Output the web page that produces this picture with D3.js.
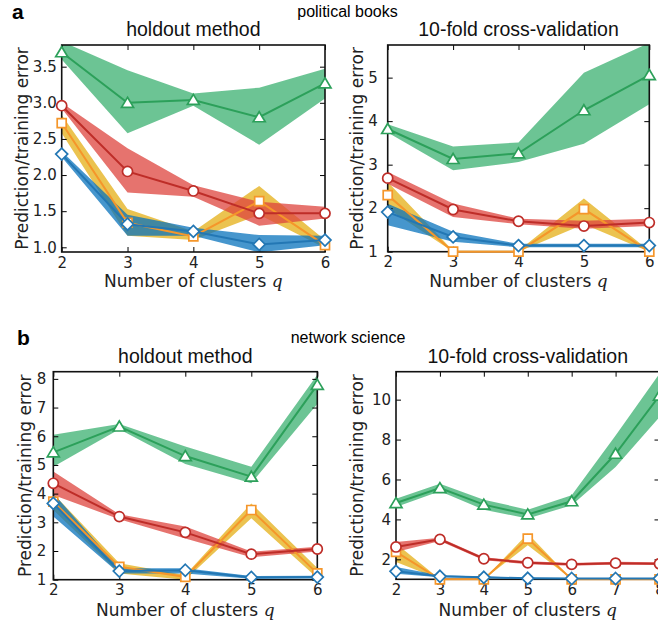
<!DOCTYPE html>
<html><head><meta charset="utf-8">
<script src="https://cdn.jsdelivr.net/npm/d3@7"></script>
<style>body{margin:0;background:#fff} svg{display:block}</style>
</head><body>
<svg id="chart" width="658" height="627"></svg>
<script>
// ---------- DATA ----------
const qShort = [2, 3, 4, 5, 6];
const qLong = [2, 3, 4, 5, 6, 7, 8];

// political books, holdout method
const polHoldTriMean = [3.70, 3.00, 3.04, 2.80, 3.27];
const polHoldTriLow  = [3.60, 2.58, 2.96, 2.42, 3.06];
const polHoldTriHigh = [3.85, 3.45, 3.13, 3.21, 3.47];
const polHoldCirMean = [2.96, 2.05, 1.78, 1.47, 1.47];
const polHoldCirLow  = [2.92, 1.76, 1.70, 1.30, 1.40];
const polHoldCirHigh = [3.00, 2.37, 1.86, 1.63, 1.56];
const polHoldSqMean  = [2.72, 1.34, 1.15, 1.64, 1.03];
const polHoldSqLow   = [2.58, 1.16, 1.10, 1.45, 0.99];
const polHoldSqHigh  = [2.83, 1.53, 1.22, 1.85, 1.10];
const polHoldDiaMean = [2.29, 1.32, 1.22, 1.04, 1.10];
const polHoldDiaLow  = [2.25, 1.16, 1.16, 0.93, 1.03];
const polHoldDiaHigh = [2.33, 1.45, 1.27, 1.17, 1.16];

// political books, 10-fold cross-validation
const polCvTriMean = [3.82, 3.13, 3.26, 4.25, 5.06];
const polCvTriLow  = [3.74, 2.87, 3.06, 3.48, 4.39];
const polCvTriHigh = [3.93, 3.42, 3.51, 5.11, 5.80];
const polCvCirMean = [2.69, 1.97, 1.70, 1.59, 1.67];
const polCvCirLow  = [2.56, 1.80, 1.63, 1.53, 1.59];
const polCvCirHigh = [2.83, 2.11, 1.76, 1.71, 1.76];
const polCvSqMean  = [2.30, 1.00, 1.00, 1.98, 1.00];
const polCvSqLow   = [1.99, 1.00, 1.00, 1.63, 1.00];
const polCvSqHigh  = [2.60, 1.02, 1.02, 2.22, 1.02];
const polCvDiaMean = [1.91, 1.34, 1.14, 1.14, 1.14];
const polCvDiaLow  = [1.61, 1.23, 1.10, 1.10, 1.10];
const polCvDiaHigh = [2.10, 1.46, 1.18, 1.18, 1.18];

// network science, holdout method
const netHoldTriMean = [5.44, 6.34, 5.31, 4.59, 7.79];
const netHoldTriLow  = [4.94, 6.24, 5.03, 4.36, 7.12];
const netHoldTriHigh = [6.05, 6.43, 5.64, 4.94, 8.14];
const netHoldCirMean = [4.36, 3.20, 2.65, 1.89, 2.07];
const netHoldCirLow  = [3.95, 3.11, 2.44, 1.78, 1.98];
const netHoldCirHigh = [4.77, 3.28, 2.85, 1.98, 2.15];
const netHoldSqMean  = [3.72, 1.45, 1.10, 3.43, 1.22];
const netHoldSqLow   = [3.43, 1.22, 1.00, 3.14, 1.06];
const netHoldSqHigh  = [4.00, 1.57, 1.16, 3.66, 1.41];
const netHoldDiaMean = [3.66, 1.30, 1.33, 1.08, 1.09];
const netHoldDiaLow  = [3.20, 1.22, 1.22, 1.03, 1.04];
const netHoldDiaHigh = [4.01, 1.40, 1.40, 1.13, 1.14];

// network science, 10-fold cross-validation
const netCvTriMean = [4.82, 5.57, 4.74, 4.25, 4.91, 7.29, 10.2];
const netCvTriLow  = [4.62, 5.41, 4.49, 4.04, 4.71, 6.63, 9.13];
const netCvTriHigh = [5.04, 5.79, 4.99, 4.49, 5.21, 8.21, 11.3];
const netCvCirMean = [2.62, 3.00, 2.03, 1.83, 1.75, 1.81, 1.78];
const netCvCirLow  = [2.37, 2.92, 1.95, 1.76, 1.68, 1.74, 1.71];
const netCvCirHigh = [2.87, 3.08, 2.11, 1.90, 1.82, 1.88, 1.85];
const netCvSqMean  = [2.37, 1.00, 1.00, 3.04, 1.00, 1.00, 1.00];
const netCvSqLow   = [1.87, 1.00, 1.00, 2.70, 1.00, 1.00, 1.00];
const netCvSqHigh  = [2.79, 1.00, 1.00, 3.29, 1.00, 1.00, 1.00];
const netCvDiaMean = [1.40, 1.15, 1.10, 1.05, 1.04, 1.04, 1.04];
const netCvDiaLow  = [1.28, 1.10, 1.06, 1.02, 1.01, 1.01, 1.01];
const netCvDiaHigh = [1.61, 1.20, 1.14, 1.08, 1.07, 1.07, 1.07];

const yTicksPolHold = [1.0, 1.5, 2.0, 2.5, 3.0, 3.5];
const yTicksPolCv = [1, 2, 3, 4, 5];
const yTicksNetHold = [1, 2, 3, 4, 5, 6, 7, 8];
const yTicksNetCv = [2, 4, 6, 8, 10];

const titles = ["holdout method", "10-fold cross-validation"];
const datasetNames = ["political books", "network science"];
const panelLetters = ["a", "b"];
const xLabelText = "Number of clusters ";
const yLabelText = "Prediction/training error";

// ---------- STYLES ----------
const styles = {
  sq:  {line: "#f5962a", band: "rgb(228,175,22)"},
  dia: {line: "#2377b4", band: "rgb(8,115,188)"},
  cir: {line: "#be2d28", band: "rgb(222,68,62)"},
  tri: {line: "#2ca05a", band: "rgb(59,176,112)"}
};
const order = ["sq", "dia", "cir", "tri"];
const bandOpacity = 0.75;

const panels = [
  {id: "p1", q: qShort, xDomain: [2, 6], yDomain: [0.935, 3.8], L: 61.7, R: 325, T: 45, B: 252,
   yTicks: yTicksPolHold, fmt: d3.format(".1f"), yPad: 5, yLabX: 28, title: titles[0], titleY: 36, xLabY: 287,
   series: {tri: [polHoldTriMean, polHoldTriLow, polHoldTriHigh], cir: [polHoldCirMean, polHoldCirLow, polHoldCirHigh],
            sq: [polHoldSqMean, polHoldSqLow, polHoldSqHigh], dia: [polHoldDiaMean, polHoldDiaLow, polHoldDiaHigh]}},
  {id: "p2", q: qShort, xDomain: [2, 6], yDomain: [1, 5.75], L: 387.7, R: 649.3, T: 45, B: 251.7,
   yTicks: yTicksPolCv, fmt: d3.format("d"), yPad: 10, yLabX: 363, title: titles[1], titleY: 36, xLabY: 287,
   series: {tri: [polCvTriMean, polCvTriLow, polCvTriHigh], cir: [polCvCirMean, polCvCirLow, polCvCirHigh],
            sq: [polCvSqMean, polCvSqLow, polCvSqHigh], dia: [polCvDiaMean, polCvDiaLow, polCvDiaHigh]}},
  {id: "p3", q: qShort, xDomain: [2, 6], yDomain: [1, 8.25], L: 53.3, R: 317.3, T: 371.7, B: 579.7,
   yTicks: yTicksNetHold, fmt: d3.format("d"), yPad: 7, yLabX: 30.5, title: titles[0], titleY: 362.7, xLabY: 616,
   series: {tri: [netHoldTriMean, netHoldTriLow, netHoldTriHigh], cir: [netHoldCirMean, netHoldCirLow, netHoldCirHigh],
            sq: [netHoldSqMean, netHoldSqLow, netHoldSqHigh], dia: [netHoldDiaMean, netHoldDiaLow, netHoldDiaHigh]}},
  {id: "p4", q: qLong, xDomain: [2, 8], yDomain: [1, 11.4], L: 396, R: 659.5, T: 371.7, B: 579.3,
   yTicks: yTicksNetCv, fmt: d3.format("d"), yPad: 5, yLabX: 363, title: titles[1], titleY: 362.7, xLabY: 616,
   series: {tri: [netCvTriMean, netCvTriLow, netCvTriHigh], cir: [netCvCirMean, netCvCirLow, netCvCirHigh],
            sq: [netCvSqMean, netCvSqLow, netCvSqHigh], dia: [netCvDiaMean, netCvDiaLow, netCvDiaHigh]}}
];

const svg = d3.select("#chart");
svg.append("rect").attr("width", 658).attr("height", 627).attr("fill", "#fff");
const defs = svg.append("defs");

const TICK_FONT = "'DejaVu Sans', sans-serif";
const SANS = "'Liberation Sans', Arial, sans-serif";

function markerPath(kind) {
  if (kind === "cir") return d3.symbol(d3.symbolCircle, 80)();
  if (kind === "sq") return "M-4.5,-4.5L4.5,-4.5L4.5,4.5L-4.5,4.5Z";
  if (kind === "dia") return "M0,-6L6,0L0,6L-6,0Z";
  return "M0,-5.5L6,4.5L-6,4.5Z";
}

function drawPanel(p) {
  const x = d3.scaleLinear().domain(p.xDomain).range([p.L, p.R]);
  const y = d3.scaleLinear().domain(p.yDomain).range([p.B, p.T]);
  const g = svg.append("g");
  defs.append("clipPath").attr("id", "clip-" + p.id).append("rect")
    .attr("x", p.L).attr("y", p.T).attr("width", p.R - p.L).attr("height", p.B - p.T);

  // bands
  const bandG = g.append("g").attr("clip-path", `url(#clip-${p.id})`);
  order.forEach(k => {
    const [mean, lo, hi] = p.series[k];
    const area = d3.area().x((d, i) => x(p.q[i])).y0((d, i) => y(lo[i])).y1((d, i) => y(hi[i]));
    bandG.append("path").datum(mean).attr("d", area)
      .attr("fill", styles[k].band).attr("fill-opacity", bandOpacity);
  });

  // axes
  const styleAxis = a => {
    a.select(".domain").remove();
    a.selectAll("line").attr("stroke", "#000").attr("stroke-width", 1);
    a.selectAll("text").attr("font-family", TICK_FONT).attr("font-size", 15).attr("fill", "#222");
  };
  g.append("g").attr("transform", `translate(${p.L},0)`)
    .call(d3.axisLeft(y).tickValues(p.yTicks).tickFormat(p.fmt).tickSizeInner(-5).tickSizeOuter(0).tickPadding(p.yPad))
    .call(styleAxis);
  g.append("g").attr("transform", `translate(${p.R},0)`)
    .call(d3.axisRight(y).tickValues(p.yTicks).tickFormat("").tickSizeInner(-5).tickSizeOuter(0))
    .call(styleAxis);
  g.append("g").attr("transform", `translate(0,${p.B})`)
    .call(d3.axisBottom(x).tickValues(p.q).tickFormat(d3.format("d")).tickSizeInner(-5).tickSizeOuter(0).tickPadding(5))
    .call(styleAxis);
  g.append("g").attr("transform", `translate(0,${p.T})`)
    .call(d3.axisTop(x).tickValues(p.q).tickFormat("").tickSizeInner(-5).tickSizeOuter(0))
    .call(styleAxis);

  // frame
  g.append("rect").attr("x", p.L).attr("y", p.T).attr("width", p.R - p.L).attr("height", p.B - p.T)
    .attr("fill", "none").attr("stroke", "#111").attr("stroke-width", 1.6);

  // lines + markers
  order.forEach(k => {
    const [mean] = p.series[k];
    const line = d3.line().x((d, i) => x(p.q[i])).y(d => y(d));
    g.append("path").datum(mean).attr("d", line).attr("fill", "none")
      .attr("stroke", styles[k].line).attr("stroke-width", 2);
    g.append("g").selectAll("path").data(mean).join("path")
      .attr("d", markerPath(k))
      .attr("transform", (d, i) => `translate(${x(p.q[i])},${y(d)})`)
      .attr("fill", "#fff").attr("stroke", styles[k].line).attr("stroke-width", 1.7);
  });

  // title
  g.append("text").attr("x", (p.L + p.R) / 2).attr("y", p.titleY).attr("text-anchor", "middle")
    .attr("font-family", SANS).attr("font-size", 19.5).attr("fill", "#111").text(p.title);
  // x label
  const xl = g.append("text").attr("x", (p.L + p.R) / 2).attr("y", p.xLabY).attr("text-anchor", "middle")
    .attr("font-family", TICK_FONT).attr("font-size", 17).attr("fill", "#222");
  xl.append("tspan").text(xLabelText);
  xl.append("tspan").attr("font-family", "'DejaVu Serif', serif").attr("font-style", "italic").text("q");
  // y label
  g.append("text").attr("transform", `translate(${p.yLabX},${(p.T + p.B) / 2}) rotate(-90)`)
    .attr("text-anchor", "middle").attr("font-family", TICK_FONT).attr("font-size", 17).attr("fill", "#222")
    .text(yLabelText);
}

panels.forEach(drawPanel);

// headers
svg.append("text").attr("x", 12).attr("y", 19).attr("font-family", SANS).attr("font-weight", "bold")
  .attr("font-size", 21).text(panelLetters[0]);
svg.append("text").attr("x", 17).attr("y", 345).attr("font-family", SANS).attr("font-weight", "bold")
  .attr("font-size", 21).text(panelLetters[1]);
svg.append("text").attr("x", 347.5).attr("y", 17).attr("text-anchor", "middle").attr("font-family", SANS)
  .attr("font-size", 16).text(datasetNames[0]);
svg.append("text").attr("x", 348).attr("y", 343).attr("text-anchor", "middle").attr("font-family", SANS)
  .attr("font-size", 16).text(datasetNames[1]);
</script>
</body></html>
